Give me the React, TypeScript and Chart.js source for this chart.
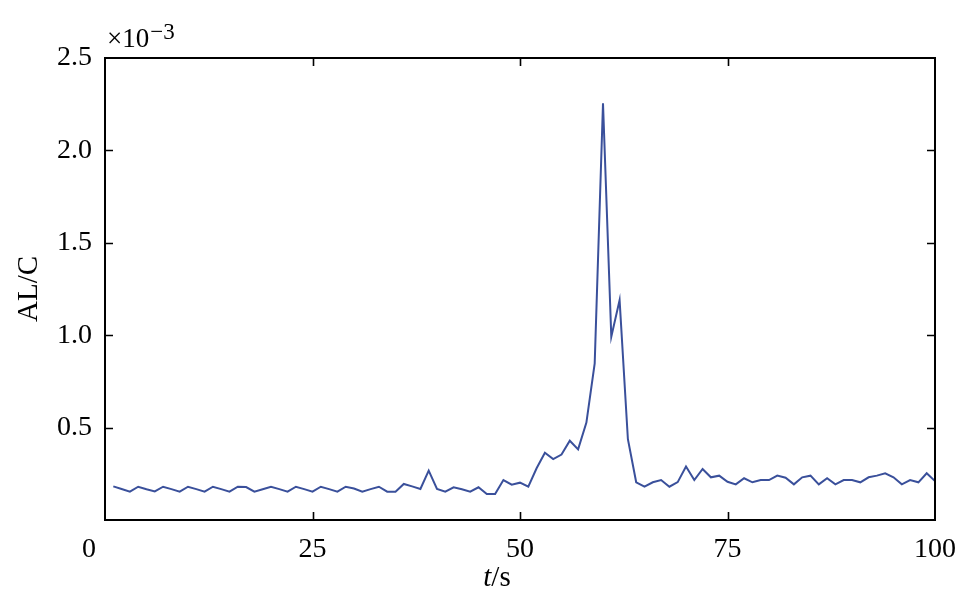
import React, { useEffect, useRef } from "react";
import { Chart, registerables } from "chart.js";

Chart.register(...registerables);

// time in seconds
const timeSeconds: number[] = [
  1, 2, 3, 4, 5, 6, 7, 8, 9, 10, 11, 12, 13, 14, 15, 16, 17, 18, 19, 20,
  21, 22, 23, 24, 25, 26, 27, 28, 29, 30, 31, 32, 33, 34, 35, 36, 37, 38, 39, 40,
  41, 42, 43, 44, 45, 46, 47, 48, 49, 50, 51, 52, 53, 54, 55, 56, 57, 58, 59, 60,
  61, 62, 63, 64, 65, 66, 67, 68, 69, 70, 71, 72, 73, 74, 75, 76, 77, 78, 79, 80,
  81, 82, 83, 84, 85, 86, 87, 88, 89, 90, 91, 92, 93, 94, 95, 96, 97, 98, 99, 100,
];

// AL/C values, in units of 10^-3
const alcValues: number[] = [
  0.182, 0.168, 0.153, 0.180, 0.166, 0.155, 0.180, 0.167, 0.153, 0.180,
  0.167, 0.153, 0.180, 0.167, 0.153, 0.180, 0.178, 0.153, 0.166, 0.180,
  0.167, 0.153, 0.180, 0.167, 0.153, 0.180, 0.167, 0.153, 0.180, 0.170,
  0.153, 0.167, 0.180, 0.153, 0.153, 0.195, 0.182, 0.168, 0.267, 0.168,
  0.153, 0.177, 0.166, 0.153, 0.177, 0.141, 0.141, 0.216, 0.191, 0.202,
  0.180, 0.280, 0.364, 0.330, 0.354, 0.429, 0.382, 0.527, 0.848, 2.255,
  0.992, 1.190, 0.437, 0.204, 0.180, 0.204, 0.216, 0.180, 0.205, 0.289,
  0.216, 0.276, 0.231, 0.240, 0.207, 0.193, 0.226, 0.204, 0.216, 0.216,
  0.240, 0.229, 0.193, 0.231, 0.240, 0.193, 0.226, 0.193, 0.216, 0.216,
  0.204, 0.231, 0.240, 0.253, 0.231, 0.193, 0.216, 0.204, 0.253, 0.211,
];

const xTickValues: number[] = [0, 25, 50, 75, 100];
const yTickValues: number[] = [0.5, 1.0, 1.5, 2.0, 2.5];
const yExponentLabel = { base: "\u00d710", exp: "\u22123" };
const yAxisTitle = "AL/C";
const xAxisTitle = { italic: "t", rest: "/s" };

const FONT = '"Liberation Serif", "Times New Roman", serif';
const FONT_SIZE = 28;
const TITLE_SIZE = 29;
const TICK_PAD = 13;
const TICK_LEN = 8;

const framePlugin = {
  id: "framePlugin",
  afterDraw(chart: any) {
    const { ctx, chartArea: a, scales } = chart;
    const xs = scales.x;
    const ys = scales.y;
    ctx.save();
    // frame
    ctx.strokeStyle = "#000";
    ctx.lineWidth = 2;
    ctx.strokeRect(a.left, a.top, a.right - a.left, a.bottom - a.top);
    // inward ticks
    ctx.lineWidth = 1.6;
    ctx.beginPath();
    for (const v of xTickValues) {
      if (v <= xs.min || v >= xs.max) continue;
      const px = Math.round(xs.getPixelForValue(v)) + 0.5;
      ctx.moveTo(px, a.bottom);
      ctx.lineTo(px, a.bottom - TICK_LEN);
      ctx.moveTo(px, a.top);
      ctx.lineTo(px, a.top + TICK_LEN);
    }
    for (const v of yTickValues) {
      if (v <= ys.min || v >= ys.max) continue;
      const py = Math.round(ys.getPixelForValue(v)) + 0.5;
      ctx.moveTo(a.left, py);
      ctx.lineTo(a.left + TICK_LEN, py);
      ctx.moveTo(a.right, py);
      ctx.lineTo(a.right - TICK_LEN, py);
    }
    ctx.stroke();

    ctx.fillStyle = "#000";
    // origin "0" label (shifted left of the corner)
    ctx.font = `${FONT_SIZE}px ${FONT}`;
    ctx.textAlign = "center";
    ctx.textBaseline = "middle";
    ctx.fillText(String(xTickValues[0]), xs.getPixelForValue(xTickValues[0]) - 16, a.bottom + TICK_PAD + FONT_SIZE * 0.6);

    // exponent label
    ctx.textAlign = "left";
    ctx.textBaseline = "alphabetic";
    ctx.font = `27px ${FONT}`;
    ctx.fillText(yExponentLabel.base, a.left + 2, 47);
    const bw = ctx.measureText(yExponentLabel.base).width;
    ctx.font = `23px ${FONT}`;
    ctx.fillText(yExponentLabel.exp, a.left + 2 + bw + 1, 39);

    // y axis title
    ctx.save();
    ctx.font = `${TITLE_SIZE}px ${FONT}`;
    ctx.translate(29, (a.top + a.bottom) / 2);
    ctx.rotate(-Math.PI / 2);
    ctx.textAlign = "center";
    ctx.textBaseline = "middle";
    ctx.fillText(yAxisTitle, 0, 0);
    ctx.restore();

    // x axis title
    ctx.textBaseline = "middle";
    ctx.textAlign = "left";
    ctx.font = `italic ${TITLE_SIZE}px ${FONT}`;
    const iw = ctx.measureText(xAxisTitle.italic).width;
    ctx.font = `${TITLE_SIZE}px ${FONT}`;
    const rw = ctx.measureText(xAxisTitle.rest).width;
    const cx = 497;
    const startX = cx - (iw + rw) / 2;
    const ty = 578;
    ctx.font = `italic ${TITLE_SIZE}px ${FONT}`;
    ctx.fillText(xAxisTitle.italic, startX, ty);
    ctx.font = `${TITLE_SIZE}px ${FONT}`;
    ctx.fillText(xAxisTitle.rest, startX + iw, ty);

    ctx.restore();
  },
};

export default function App() {
  const canvasRef = useRef<HTMLCanvasElement | null>(null);

  useEffect(() => {
    const canvas = canvasRef.current;
    if (!canvas) return;
    const points = timeSeconds.map((t, i) => ({ x: t, y: alcValues[i] }));
    const chart = new Chart(canvas, {
      type: "line",
      data: {
        datasets: [
          {
            data: points,
            borderColor: "#3a509b",
            borderWidth: 2,
            pointRadius: 0,
            fill: false,
            tension: 0,
          },
        ],
      },
      options: {
        animation: false,
        responsive: false,
        devicePixelRatio: 1,
        layout: { padding: { top: 58, right: 38, left: 0, bottom: 0 } },
        plugins: {
          legend: { display: false },
          tooltip: { enabled: false },
        },
        scales: {
          x: {
            type: "linear",
            min: 0,
            max: 100,
            afterBuildTicks: (scale: any) => {
              scale.ticks = xTickValues.map((v) => ({ value: v }));
            },
            ticks: {
              autoSkip: false,
              maxRotation: 0,
              padding: TICK_PAD,
              color: "#000",
              font: { family: FONT, size: FONT_SIZE },
              callback: (v: any) => (Number(v) === 0 ? "" : String(v)),
            },
            grid: { display: false, drawTicks: false },
            border: { display: false },
            afterFit: (scale: any) => {
              scale.height = 87;
            },
          },
          y: {
            type: "linear",
            min: 0,
            max: 2.5,
            afterBuildTicks: (scale: any) => {
              scale.ticks = [0, ...yTickValues].map((v) => ({ value: v }));
            },
            ticks: {
              autoSkip: false,
              padding: 13,
              color: "#000",
              font: { family: FONT, size: FONT_SIZE },
              callback: (v: any) => (Number(v) === 0 ? "" : Number(v).toFixed(1)),
            },
            grid: { display: false, drawTicks: false },
            border: { display: false },
            afterFit: (scale: any) => {
              scale.width = 105;
            },
          },
        },
      },
      plugins: [framePlugin],
    });
    return () => chart.destroy();
  }, []);

  return (
    <div style={{ position: "absolute", left: 0, top: 0, width: 973, height: 607, background: "#fff" }}>
      <canvas ref={canvasRef} width={973} height={607} style={{ display: "block" }} />
    </div>
  );
}
